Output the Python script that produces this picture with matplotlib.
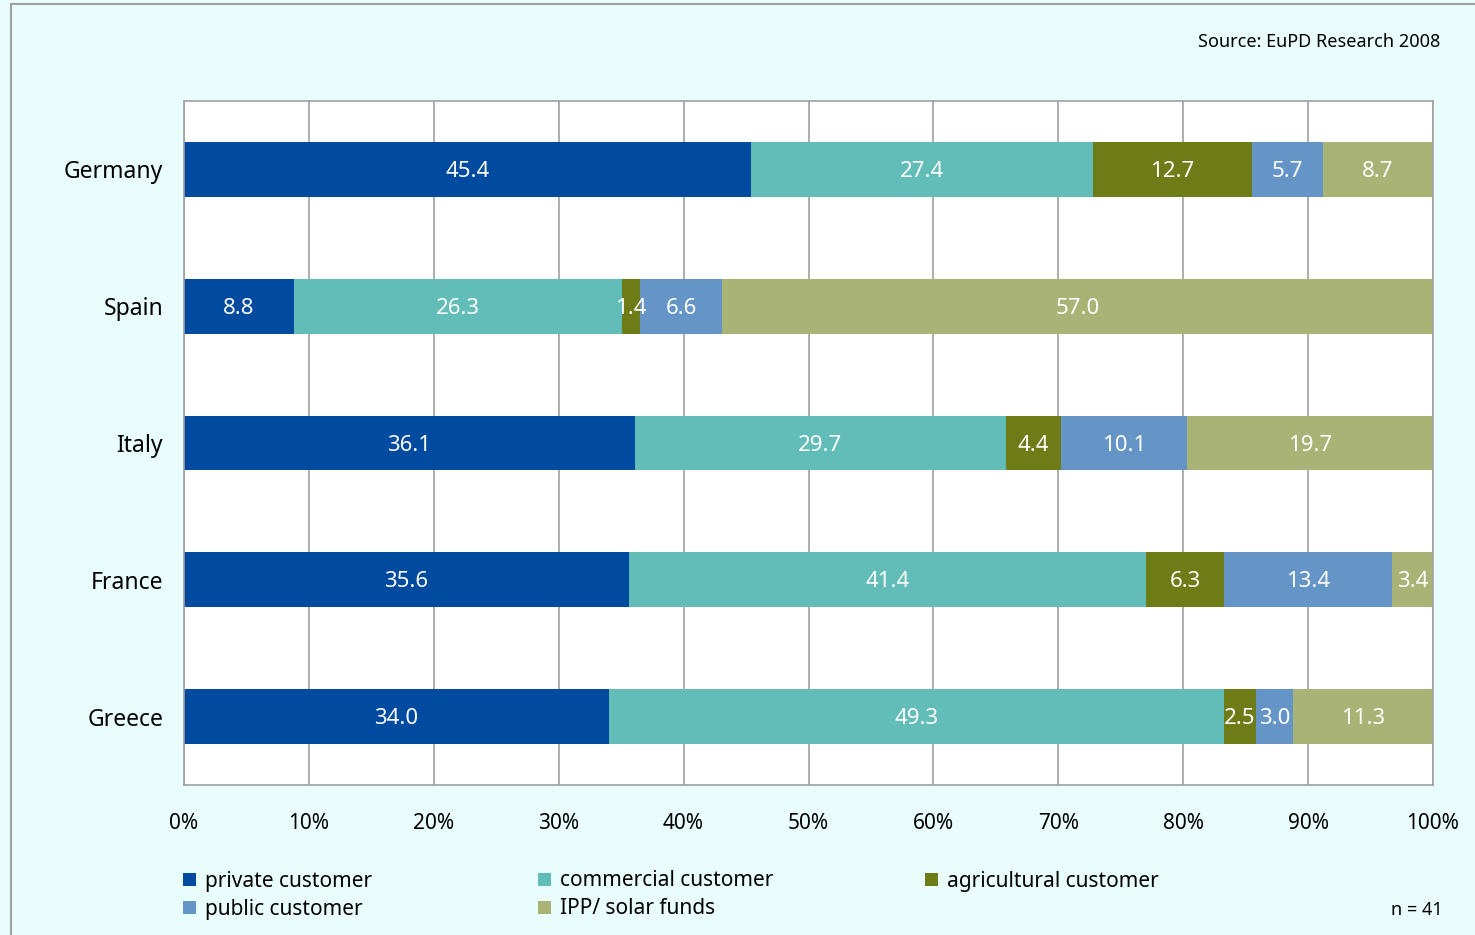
import numpy as np
import matplotlib.pyplot as plt
from matplotlib.patches import Rectangle

plt.rcParams['font.family'] = ['Noto Sans', 'DejaVu Sans']

countries = ['Germany', 'Spain', 'Italy', 'France', 'Greece']
segments = ['private customer', 'commercial customer', 'agricultural customer',
            'public customer', 'IPP/ solar funds']
private = [45.4, 8.8, 36.1, 35.6, 34.0]
commercial = [27.4, 26.3, 29.7, 41.4, 49.3]
agricultural = [12.7, 1.4, 4.4, 6.3, 2.5]
public = [5.7, 6.6, 10.1, 13.4, 3.0]
ipp = [8.7, 57.0, 19.7, 3.4, 11.3]
xticks = np.arange(0, 101, 10)

colors = ['#004a9f', '#62bdb8', '#6e7c17', '#6595c6', '#a9b375']
bg = '#e9fefc'
grey = '#a0a0a0'

fig = plt.figure(figsize=(14.75, 9.35), dpi=100, facecolor=bg)
ax = fig.add_axes([184 / 1475, 1 - 785 / 935, (1433 - 184) / 1475, (785 - 101) / 935])
ax.set_facecolor('white')

y = np.arange(len(countries))
left = np.zeros(len(countries))
for name, vals, col in zip(segments, [private, commercial, agricultural, public, ipp], colors):
    bars = ax.barh(y, vals, left=left, height=0.4, color=col, label=name, zorder=2)
    texts = ax.bar_label(bars, fmt='%.1f', label_type='center', color='white', fontsize=16)
    for t in texts:
        t.xyann = (0, -1.5)  # nudge digits down to sit in the middle of the bar
    left += np.array(vals)

ax.set_xlim(0, 100)
ax.set_ylim(len(countries) - 0.5, -0.5)
ax.set_yticks(y)
ax.set_yticklabels(countries, fontsize=16.5)
ax.set_xticks(xticks)
ax.set_xticklabels([f'{v}%' for v in xticks], fontsize=15)
ax.tick_params(axis='x', length=0, pad=20)
ax.tick_params(axis='y', length=0, pad=15)
ax.grid(axis='x', color=grey, linewidth=1.2, zorder=0)
ax.set_axisbelow(True)
for s in ax.spines.values():
    s.set_color(grey)
    s.set_linewidth(1.2)

# outer frame
fig.patches.append(Rectangle((11 / 1475, -0.1), 1.2, 1 - 4 / 935 + 0.1,
                             transform=fig.transFigure, fill=False,
                             edgecolor=grey, linewidth=1.5))

fig.text(1440 / 1475, 1 - 42 / 935, 'Source: EuPD Research 2008', ha='right', va='center', fontsize=13)
fig.text(1443 / 1475, 1 - 910 / 935, 'n = 41', ha='right', va='center', fontsize=13)

# legend laid out row by row in three columns
handles, labels = ax.get_legend_handles_labels()
col_x = [183, 538, 925]
row_y = [881, 909]
for i, (h, lab) in enumerate(zip(handles, labels)):
    r, c = divmod(i, 3)
    fig.legend([h], [lab], loc='center left',
               bbox_to_anchor=(col_x[c] / 1475, 1 - row_y[r] / 935),
               frameon=False, fontsize=15, handlelength=0.6, handleheight=0.6,
               handletextpad=0.45, borderpad=0, borderaxespad=0)

fig.savefig('out.png', dpi=100, facecolor=bg)
